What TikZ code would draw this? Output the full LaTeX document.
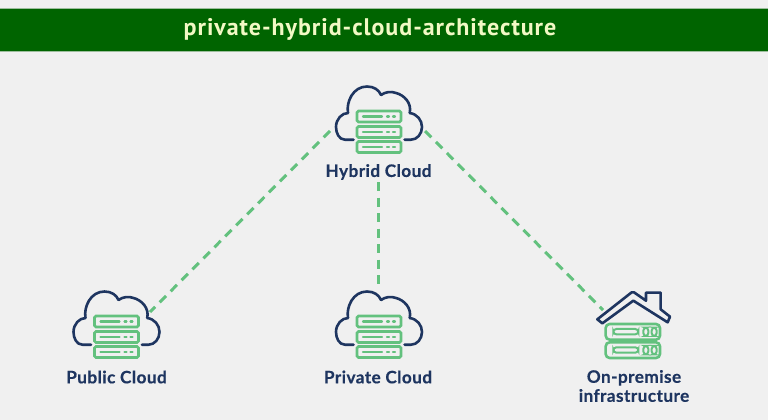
\documentclass[tikz,border=0pt]{standalone}
\usepackage{fontspec}
\usetikzlibrary{calc}
\setmainfont{Lato}
\newfontfamily\titlefont{PT Sans}
\definecolor{bgc}{HTML}{F0F0F0}
\definecolor{navy}{HTML}{1E3560}
\definecolor{lgreen}{HTML}{63C17E}
\definecolor{hdr}{HTML}{006400}
\definecolor{hdredge}{HTML}{9DBE9D}
\definecolor{ttl}{HTML}{F2F9C4}
\tikzset{
  x=1pt,y=-1pt,
  linkline/.style={draw=lgreen,line width=3pt,dash pattern=on 9pt off 6.5pt},
  cloudline/.style={draw=navy,line width=2.6pt,line cap=round,line join=round},
  srv/.style={draw=lgreen,line width=2.6pt,rounded corners=1.5pt},
  srvin/.style={draw=lgreen,line width=2.2pt,line cap=round},
  lbl/.style={font=\bfseries\fontsize{17.2}{19}\selectfont\addfontfeature{FakeBold=0.4,LetterSpace=2.5},text=navy,align=center,inner sep=0pt},
  anchorbox/.style={inner sep=0pt,minimum width=20pt,minimum height=20pt},
  pics/cloudicon/.style={code={
    \draw[cloudline] (-25.5,7.7) -- (-34,7.7)
      .. controls (-40,7.7) and (-43,1) .. (-43,-5)
      .. controls (-43,-13) and (-37,-19) .. (-31,-19)
      .. controls (-33,-30) and (-26,-45.5) .. (-12,-45.5)
      .. controls (-5,-45.5) and (0,-42) .. (2,-37)
      .. controls (6,-40) and (12,-41) .. (17,-39)
      .. controls (25,-37) and (33,-29) .. (30.7,-19)
      .. controls (38,-18) and (43,-12) .. (43,-5)
      .. controls (43,2) and (38,7.7) .. (32,7.7) -- (25.5,7.7);
    \foreach \yy in {-15.5,0,15} {
      \draw[srv] (-22,\yy-5.5) rectangle (22,\yy+5.5);
      \draw[srvin] (-16,\yy) -- (3,\yy);
      \draw[srvin] (8,\yy) -- (10,\yy);
      \draw[srvin] (14,\yy) -- (16,\yy);
    }
  }},
}
\begin{document}
\begin{tikzpicture}
\useasboundingbox (0,0) rectangle (768,420);
\fill[bgc] (0,0) rectangle (768,420);
\fill[hdredge] (0,8.5) rectangle (768,52.5);
\fill[hdr] (0,9.5) rectangle (768,51.5);
\node[inner sep=0pt,text=ttl,font=\titlefont\bfseries\fontsize{24}{26}\selectfont\addfontfeature{LetterSpace=4}] (title) at (370,29) {private-hybrid-cloud-architecture};

% icon anchors
\node[anchorbox] (hybrid) at (379,132) {};
\node[anchorbox] (public) at (116.5,337) {};
\node[anchorbox] (private) at (379,337) {};
\node[anchorbox] (onprem) at (634,336) {};

\pic at (hybrid) {cloudicon};
\pic at (public) {cloudicon};
\pic at (private) {cloudicon};

% house icon
\begin{scope}[shift={(560,280)},x=0.3333pt,y=-0.3333pt]
  \draw[cloudline] (112,118) -- (215,37) -- (222,37) -- (258,62) -- (258,38) -- (302,38) -- (302,88) -- (330,110) -- (323,127) -- (220,62) -- (127,130) -- cycle;
  \foreach \yy in {132,187} {
    \draw[srv,rounded corners=4pt] (137,\yy) rectangle (300,\yy+47);
    \draw[srv,line width=2pt,rounded corners=3pt] (160,\yy+15) rectangle (235,\yy+31);
    \draw[srv,line width=2pt,rounded corners=3pt] (250,\yy+11) rectangle (265,\yy+36);
    \draw[srv,line width=2pt,rounded corners=3pt] (275,\yy+11) rectangle (290,\yy+36);
  }
\end{scope}

% labels
\node[lbl] (hybridl) at (378.5,172) {Hybrid Cloud};
\node[lbl] (publicl) at (116.5,377) {Public Cloud};
\node[lbl] (privatel) at (378,377) {Private Cloud};
\node[lbl] (onpreml) at (634,386) {On-premise\\infrastructure};

% connectors
\coordinate (hl) at ($(hybrid)+(-49,-1)$);
\coordinate (hr) at ($(hybrid)+(46,-1)$);
\coordinate (hb) at ($(hybrid)+(-1,50)$);
\coordinate (pe) at ($(public)+(33.5,-25)$);
\coordinate (pt) at ($(private)+(-1,-47)$);
\coordinate (oe) at ($(onprem)+(-31,-26)$);
\draw[linkline] (hl) -- (pe);
\draw[linkline] (hr) -- (oe);
\draw[linkline] (hb) -- (pt);
\end{tikzpicture}
\end{document}
